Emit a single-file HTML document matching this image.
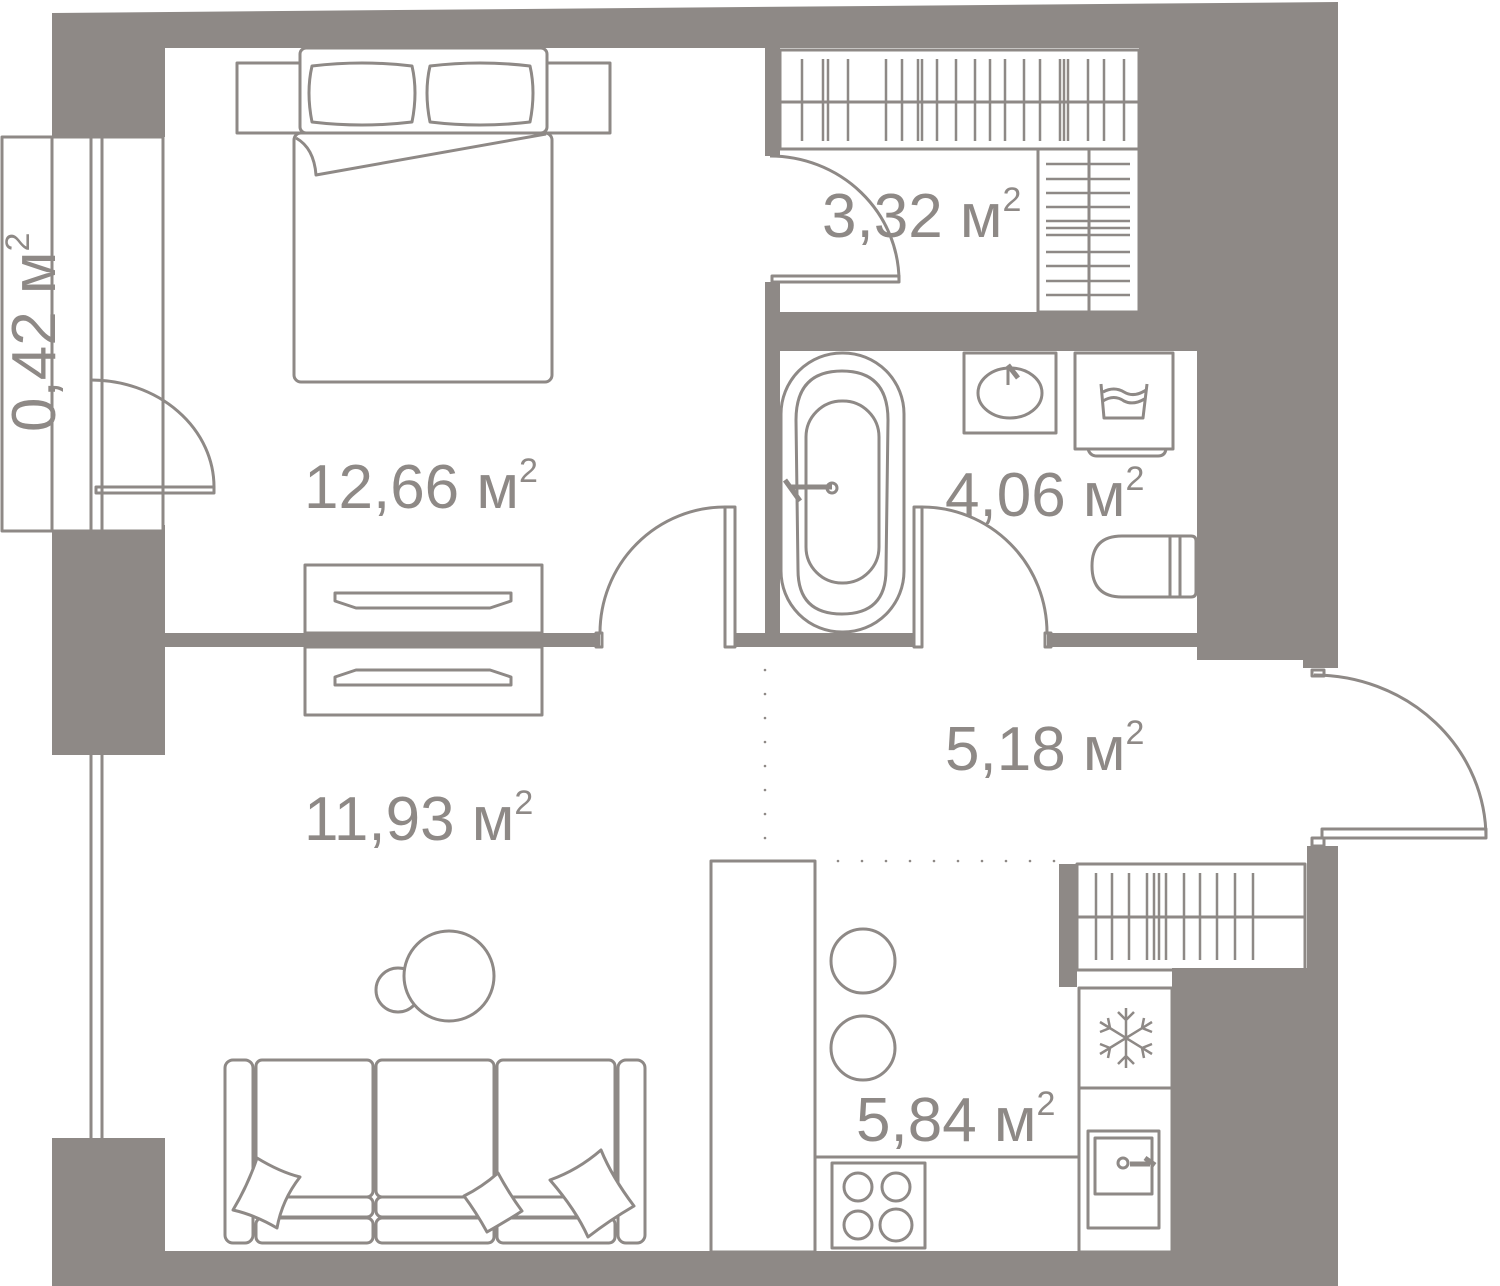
<!DOCTYPE html>
<html><head><meta charset="utf-8"><style>
html,body{margin:0;padding:0;background:#fff}
svg{display:block}
text{font-family:"Liberation Sans",sans-serif;fill:#8e8986}
</style></head><body>
<svg width="1500" height="1286" viewBox="0 0 1500 1286" xmlns="http://www.w3.org/2000/svg">
<g fill="#8e8986">
<!-- top wall -->
<polygon points="52,13 1338,2 1338,48 52,48"/>
<!-- left wall segments -->
<rect x="52" y="13" width="113" height="124"/>
<rect x="52" y="525" width="113" height="230"/>
<rect x="52" y="1138" width="113" height="148"/>
<!-- bottom wall -->
<rect x="52" y="1251" width="1286" height="35"/>
<!-- right walls -->
<rect x="1139" y="40" width="199" height="275"/>
<rect x="1197" y="310" width="141" height="350"/>
<rect x="1303" y="640" width="35" height="28"/>
<rect x="1307" y="846" width="31" height="440"/>
<rect x="1172" y="968" width="166" height="318"/>
<rect x="1059" y="864" width="18" height="123"/>
<!-- closet/bath wall -->
<rect x="780" y="312" width="420" height="39"/>
<!-- vertical wall bedroom/closet -->
<rect x="765" y="40" width="15" height="116"/>
<rect x="765" y="282" width="15" height="365"/>
<!-- bedroom/living wall -->
<rect x="165" y="633" width="435" height="14"/>
<rect x="735" y="633" width="180" height="14"/>
<rect x="1047" y="633" width="260" height="14"/>
</g>
<g fill="none" stroke="#8e8986" stroke-width="3" stroke-linejoin="round">
<!-- balcony -->
<rect x="2" y="137" width="161" height="394" fill="#fff"/>
<line x1="52" y1="137" x2="52" y2="531"/>
<line x1="91" y1="137" x2="91" y2="531"/>
<line x1="102" y1="137" x2="102" y2="531"/>
<path d="M91,380 A123,107 0 0 1 214,487"/>
<rect x="96" y="487" width="118" height="6"/>
<!-- lower window -->
<line x1="91" y1="755" x2="91" y2="1138"/>
<line x1="102" y1="755" x2="102" y2="1138"/>
<!-- bed -->
<rect x="237" y="63" width="373" height="70"/>
<rect x="300" y="48" width="247" height="85" rx="6" fill="#fff"/>
<path d="M312,66 Q362,60 412,66 Q418,92 412,122 Q362,128 312,122 Q306,92 312,66Z"/>
<path d="M430,66 Q480,60 530,66 Q536,92 530,122 Q480,128 430,122 Q424,92 430,66Z"/>
<rect x="294" y="133" width="258" height="249" rx="7" fill="#fff"/>
<path d="M546,134 L316,175 Q314,148 296,138"/>
<!-- dressers -->
<rect x="305" y="565" width="237" height="68"/>
<path d="M335,593 H511 V601 L490,608 H356 L335,601Z"/>
<rect x="305" y="647" width="237" height="68"/>
<path d="M335,677 L356,670 H490 L511,677 V685 H335Z"/>
<!-- doors bedroom/bath -->
<rect x="725" y="507" width="10" height="140"/>
<path d="M725,507 A125,126 0 0 0 600,633"/>
<rect x="596" y="633" width="6" height="14"/>
<rect x="914" y="507" width="8" height="140"/>
<path d="M922,507 A125,126 0 0 1 1047,633"/>
<rect x="1045" y="633" width="6" height="14"/>
<!-- closet -->
<rect x="780" y="50" width="359" height="99"/>
<line x1="780" y1="102" x2="1139" y2="102"/>
<g stroke-width="2.5">
<path d="M802,59V141 M823,59V141 M828,59V141 M848,59V141 M886,59V141 M902,59V141 M918,59V141 M922,59V141 M937,59V141 M956,59V141 M975,59V141 M990,59V141 M1005,59V141 M1060,59V141 M1064,59V141 M1068,59V141 M1088,59V141 M1104,59V141 M1124,59V141 M1040,59V141 M1024,59V141"/>
</g>
<rect x="1038" y="149" width="101" height="163"/>
<line x1="1089" y1="149" x2="1089" y2="312"/>
<path stroke-width="2.5" d="M1046,164H1130 M1046,179H1130 M1046,193H1130 M1046,207H1130 M1046,221H1130 M1046,228H1130 M1046,235H1130 M1046,252H1130 M1046,266H1130 M1046,281H1130 M1046,295H1130"/>
<path d="M770,156 A129,125 0 0 1 899,281"/>
<rect x="772" y="276" width="127" height="6"/>
<!-- bathroom -->
<rect x="781" y="353" width="123" height="279" rx="61" fill="#fff"/>
<path d="M796,420 Q796,371 842,371 Q888,371 888,420 L886,570 Q886,614 842,614 Q798,614 798,570Z"/>
<rect x="806" y="401" width="73" height="182" rx="36"/>
<path d="M790,487 H832" stroke-width="5"/>
<circle cx="832" cy="488" r="5"/>
<path d="M785,480 L800,501" stroke-width="5"/>
<rect x="964" y="353" width="92" height="80"/>
<ellipse cx="1010" cy="393" rx="32" cy2="0" ry="25"/>
<path d="M1008,365 L1018,378" stroke-width="5"/>
<line x1="1008" y1="368" x2="1008" y2="385"/>
<rect x="1075" y="353" width="98" height="96"/>
<path d="M1088,449 Q1090,456 1097,456 H1158 Q1165,456 1166,449"/>
<path d="M1101,384 L1104,418 H1143 L1147,384 M1103,392 Q1114,386 1124,392 Q1134,398 1146,390 M1103,401 Q1114,394 1124,401 Q1134,406 1146,398"/>
<path d="M1122,536 H1191 Q1196,536 1196,541 V592 Q1196,597 1191,597 H1122 Q1092,597 1092,566 Q1092,536 1122,536Z"/>
<line x1="1170" y1="536" x2="1170" y2="597"/>
<line x1="1180" y1="536" x2="1180" y2="597"/>
<!-- entrance door -->
<rect x="1312" y="670" width="12" height="6"/>
<path d="M1314,675 A172,163 0 0 1 1486,838"/>
<rect x="1322" y="829" width="164" height="9"/>
<rect x="1312" y="838" width="12" height="8"/>
<!-- hall closet -->
<rect x="1077" y="864" width="228" height="106"/>
<line x1="1077" y1="917" x2="1305" y2="917"/>
<path stroke-width="2.5" d="M1096,873V960 M1112,873V960 M1129,873V960 M1147,873V960 M1154,873V960 M1159,873V960 M1166,873V960 M1184,873V960 M1200,873V960 M1217,873V960 M1235,873V960 M1253,873V960"/>
<!-- kitchen -->
<rect x="711" y="861" width="104" height="391"/>
<path d="M815,861 V1157 H1079 V988"/>
<rect x="1079" y="988" width="93" height="100"/>
<rect x="1079" y="1088" width="93" height="164"/>
<rect x="1088" y="1131" width="71" height="97"/>
<rect x="1095" y="1138" width="57" height="56"/>
<circle cx="1123" cy="1163" r="5"/>
<path d="M1130,1164 H1150 M1145,1158 L1155,1165" stroke-width="5"/>
<rect x="832" y="1163" width="93" height="85"/>
<circle cx="858" cy="1187" r="14"/><circle cx="896" cy="1187" r="14"/>
<circle cx="858" cy="1225" r="14"/><circle cx="896" cy="1225" r="16"/>
<ellipse cx="863" cy="961" rx="32" ry="32"/>
<ellipse cx="863" cy="1048" rx="32" ry="32"/>
<g stroke-width="2.5"><path d="M1126,1008V1068 M1100,1022L1152,1054 M1100,1054L1152,1022 M1118,1012l8,8 8,-8 M1118,1064l8,-8 8,8 M1100,1032l10,-4 -2,-10 M1152,1044l-10,4 2,10 M1100,1044l10,4 -2,10 M1152,1032l-10,-4 2,-10"/></g>
<!-- living -->
<circle cx="398" cy="990" r="22"/>
<circle cx="449" cy="976" r="45" fill="#fff"/>
<rect x="225" y="1060" width="28" height="183" rx="8"/>
<rect x="618" y="1060" width="27" height="183" rx="8"/>
<rect x="256" y="1060" width="117" height="137" rx="6"/>
<rect x="376" y="1060" width="118" height="137" rx="6"/>
<rect x="497" y="1060" width="118" height="137" rx="6"/>
<rect x="256" y="1197" width="117" height="20" rx="6"/>
<rect x="376" y="1197" width="118" height="20" rx="6"/>
<rect x="497" y="1197" width="118" height="20" rx="6"/>
<rect x="256" y="1218" width="117" height="25" rx="6"/>
<rect x="376" y="1218" width="118" height="25" rx="6"/>
<rect x="497" y="1218" width="118" height="25" rx="6"/>
<path d="M257,1158 Q280,1172 300,1177 Q282,1200 277,1228 Q255,1215 233,1210 Q248,1185 257,1158Z" fill="#fff"/>
<path d="M498,1173 Q510,1195 522,1211 Q505,1222 487,1232 Q476,1212 464,1196 Q482,1187 498,1173Z" fill="#fff"/>
<path d="M601,1150 Q612,1177 634,1206 Q610,1220 588,1237 Q576,1210 550,1180 Q578,1170 601,1150Z" fill="#fff"/>
</g>
<!-- dotted lines -->
<g fill="#8e8986">
<circle cx="765" cy="670" r="1.3"/><circle cx="765" cy="694" r="1.3"/><circle cx="765" cy="718" r="1.3"/><circle cx="765" cy="742" r="1.3"/><circle cx="765" cy="766" r="1.3"/><circle cx="765" cy="790" r="1.3"/><circle cx="765" cy="814" r="1.3"/><circle cx="765" cy="838" r="1.3"/>
<circle cx="838" cy="861" r="1.3"/><circle cx="862" cy="861" r="1.3"/><circle cx="886" cy="861" r="1.3"/><circle cx="910" cy="861" r="1.3"/><circle cx="934" cy="861" r="1.3"/><circle cx="958" cy="861" r="1.3"/><circle cx="982" cy="861" r="1.3"/><circle cx="1006" cy="861" r="1.3"/><circle cx="1030" cy="861" r="1.3"/><circle cx="1054" cy="861" r="1.3"/>
</g>
<!-- labels -->
<g font-size="62">
<text x="304" y="508">12,66 м<tspan font-size="34" dy="-26">2</tspan></text>
<text x="304" y="840">11,93 м<tspan font-size="34" dy="-26">2</tspan></text>
<text x="822" y="237">3,32 м<tspan font-size="34" dy="-26">2</tspan></text>
<text x="945" y="516">4,06 м<tspan font-size="34" dy="-26">2</tspan></text>
<text x="945" y="770">5,18 м<tspan font-size="34" dy="-26">2</tspan></text>
<text x="856" y="1141">5,84 м<tspan font-size="34" dy="-26">2</tspan></text>
<text transform="translate(55,432) rotate(-90)">0,42 м<tspan font-size="34" dy="-26">2</tspan></text>
</g>
</svg>
</body></html>
